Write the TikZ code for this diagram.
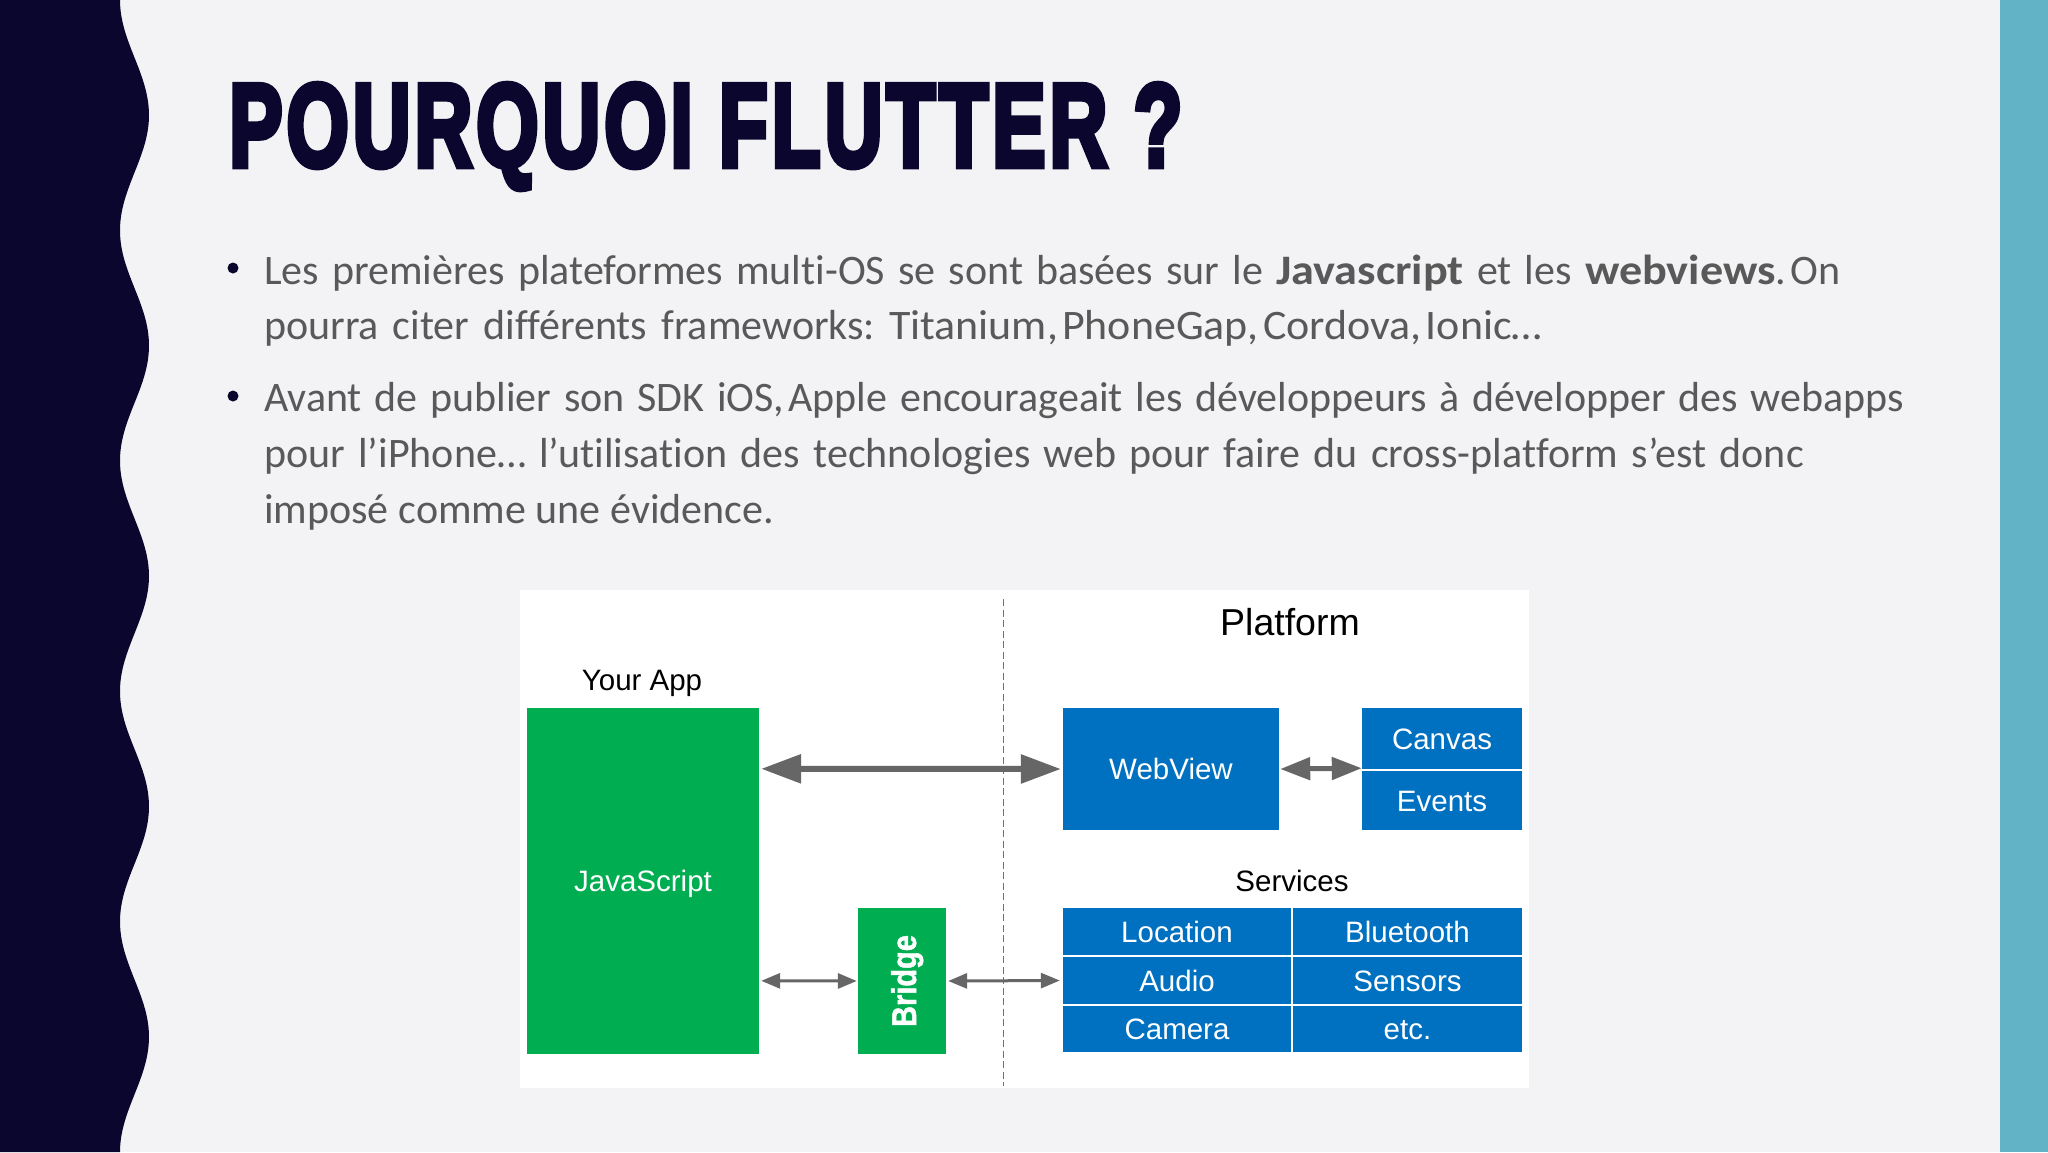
\documentclass[tikz,border=0pt]{standalone}
\usepackage{fontspec}
\usetikzlibrary{arrows.meta}
\setmainfont[Ligatures=CommonOff]{Carlito}
\newfontfamily\diagfont{Liberation Sans}
\newfontfamily\titlefont[FakeBold=5.5,LetterSpace=5]{Liberation Sans Bold}
\newfontfamily\bridgefont[FakeBold=1.5]{Liberation Sans Bold}
\definecolor{bgc}{HTML}{F3F3F6}
\definecolor{navy}{HTML}{0B062E}
\definecolor{teal}{HTML}{62B3C5}
\definecolor{bodygray}{HTML}{595959}
\definecolor{appgreen}{HTML}{00AD50}
\definecolor{platblue}{HTML}{0070C0}
\definecolor{arrowgray}{HTML}{666666}
\definecolor{dividergray}{HTML}{707070}
\newcommand{\wb}[1]{\scalebox{1.1}[1]{\textbf{#1}}}
\newcommand{\tsp}{\hskip 4pt\relax}
\tikzset{
  x=1pt,y=-1pt,
  bodyline/.style={anchor=base west,inner sep=0pt,text=bodygray,font=\fontsize{42}{50}\selectfont\frenchspacing},
  bulletdot/.style={circle,fill=navy,inner sep=0pt,minimum size=11pt},
  plainlabel/.style={anchor=base,inner sep=0pt,text=black,font=\diagfont\fontsize{29.5}{34}\selectfont},
  boxbase/.style={rectangle,inner sep=0pt,text=white,font=\diagfont\fontsize{29.5}{34}\selectfont,text height=21pt,text depth=0pt,align=center},
  greenbox/.style={boxbase,fill=appgreen},
  bluebox/.style={boxbase,fill=platblue},
  bigarrow/.style={draw=arrowgray,line width=6pt,{Triangle[length=40pt,width=28pt]}-{Triangle[length=40pt,width=28pt]},arrowgray},
  midarrow/.style={draw=arrowgray,line width=5pt,{Triangle[length=30pt,width=22pt]}-{Triangle[length=30pt,width=22pt]},arrowgray},
  smallarrow/.style={draw=arrowgray,line width=3pt,{Triangle[length=19pt,width=15pt]}-{Triangle[length=19pt,width=15pt]},arrowgray},
  divider/.style={draw=dividergray,line width=1pt,dash pattern=on 7pt off 3.5pt}
}
\begin{document}
\begin{tikzpicture}
\useasboundingbox (0,0) rectangle (2048,1152);
\fill[bgc] (0,0) rectangle (2048,1152);
% right band
\fill[teal] (2000,0) rectangle (2048,1152);
% wavy left band
\fill[navy] (0,0) -- (120,0)
  .. controls (120,42) and (149,73) .. (149,115.2)
  .. controls (149,157) and (120,188) .. (120,230.4)
  .. controls (120,273) and (149,303) .. (149,345.6)
  .. controls (149,388) and (120,418) .. (120,460.8)
  .. controls (120,503) and (149,534) .. (149,576)
  .. controls (149,618) and (120,649) .. (120,691.2)
  .. controls (120,734) and (149,764) .. (149,806.4)
  .. controls (149,849) and (120,879) .. (120,921.6)
  .. controls (120,964) and (149,995) .. (149,1036.8)
  .. controls (149,1079) and (120,1110) .. (120,1152)
  -- (0,1152) -- cycle;
% title
\node[anchor=base west,inner sep=0pt,text=navy] (title) at (229,166)
  {\resizebox{953pt}{82pt}{\titlefont POURQUOI FLUTTER ?}};
% bullets and text
\node[bulletdot] (b1) at (233,268) {};
\node[bulletdot] (b2) at (233,396) {};
\node[bodyline] (l1) at (264,284) {\makebox[1576pt][s]{Les premières plateformes multi-OS se sont basées sur le \wb{Javascript} et les \wb{webviews}.\tsp On}};
\node[bodyline] (l2) at (264,339) {\makebox[1278pt][s]{pourra citer différents frameworks: \scalebox{1.046}[1]{Titanium,\tsp PhoneGap,\tsp Cordova,\tsp Ionic…}}};
\node[bodyline] (l3) at (264,411) {\makebox[1640pt][s]{Avant de publier son SDK iOS,\tsp Apple encourageait les développeurs à développer des webapps}};
\node[bodyline] (l4) at (264,467) {\makebox[1540pt][s]{pour l’iPhone… l’utilisation des technologies web pour faire du cross-platform s’est donc}};
\node[bodyline] (l5) at (264,523) {\makebox[510pt][s]{imposé comme une évidence.}};
% diagram panel
\fill[white] (520,590) rectangle (1529,1088);
\coordinate (dtop) at (1003,599);
\coordinate (dbot) at (1003,1086);
\draw[divider] (dtop) -- (dbot);
\node[plainlabel] (platform) at (1290,635) {\fontsize{37.5}{42}\selectfont Platform};
\node[plainlabel] (yourapp) at (642,690) {Your App};
\node[plainlabel] (services) at (1292,891) {Services};
\node[greenbox,minimum width=232pt,minimum height=346pt] (js) at (643,881) {JavaScript};
\node[bluebox,minimum width=216pt,minimum height=122pt] (webview) at (1171,769) {WebView};
\node[bluebox,minimum width=160pt,minimum height=61pt] (canvas) at (1442,738.5) {Canvas};
\node[bluebox,minimum width=160pt,minimum height=59pt] (events) at (1442,800.5) {Events};
\node[greenbox,rotate=90,minimum width=146pt,minimum height=88pt,text height=28pt,font=\bridgefont\fontsize{29}{34}\selectfont] (bridge) at (902,981) {\scalebox{1}[1.18]{Bridge}};
\node[bluebox,minimum width=228pt,minimum height=47pt] (location) at (1177,931.5) {Location};
\node[bluebox,minimum width=229pt,minimum height=47pt] (bluetooth) at (1407.5,931.5) {Bluetooth};
\node[bluebox,minimum width=228pt,minimum height=47pt] (audio) at (1177,980.5) {Audio};
\node[bluebox,minimum width=229pt,minimum height=47pt] (sensors) at (1407.5,980.5) {Sensors};
\node[bluebox,minimum width=228pt,minimum height=46pt] (camera) at (1177,1029) {Camera};
\node[bluebox,minimum width=229pt,minimum height=46pt] (etc) at (1407.5,1029) {etc.};
% connectors
\draw[bigarrow] ([xshift=2pt,yshift=-61pt]js.north east) -- ([xshift=-2pt]webview.west);
\draw[midarrow] ([xshift=1pt]webview.east) -- ([yshift=1pt]canvas.south west);
\draw[smallarrow] ([xshift=2pt,yshift=-273pt]js.north east) -- ([xshift=-1pt]bridge.north);
\draw[smallarrow] ([xshift=2pt]bridge.south) -- ([xshift=-3pt]audio.west);
\end{tikzpicture}
\end{document}
